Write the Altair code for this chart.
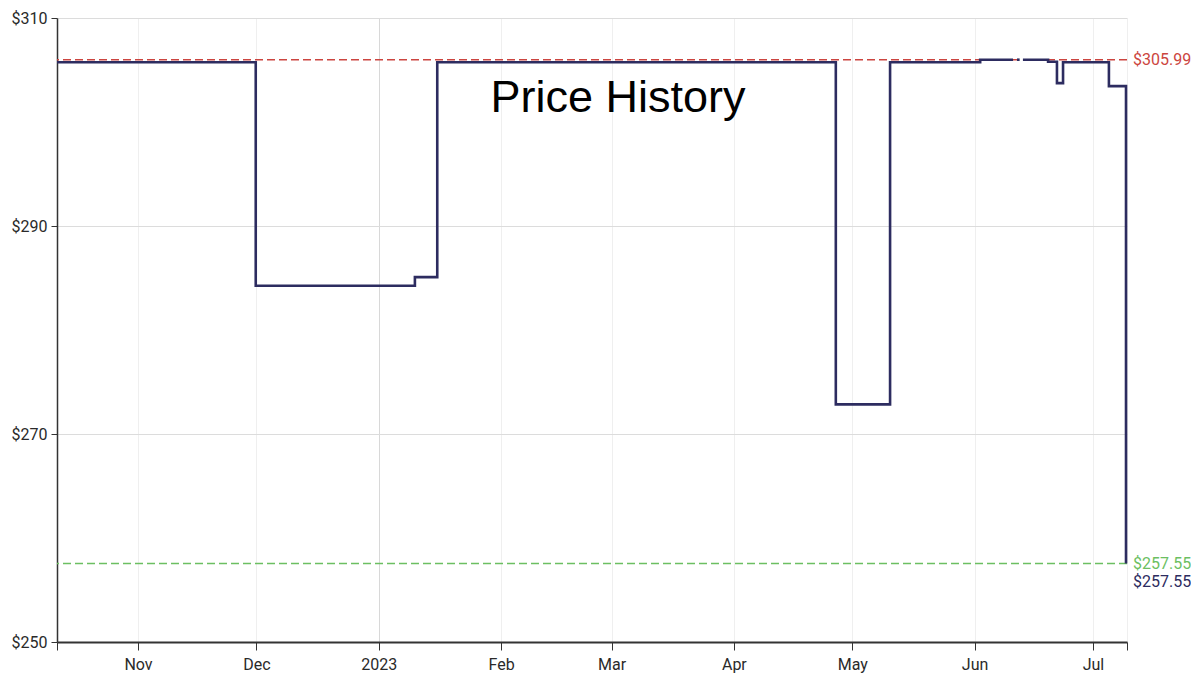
import altair as alt
import pandas as pd

# price steps (UTC); run splits the line where the history has small gaps
price_dates = [
    "2022-10-11T11:17:00Z", "2022-11-30T20:00:00Z", "2023-01-10T04:00:00Z",
    "2023-01-15T20:00:00Z", "2023-04-26T20:00:00Z", "2023-05-10T14:00:00Z",
    "2023-06-02T10:00:00Z", "2023-06-10T18:00:00Z",
    "2023-06-11T18:00:00Z", "2023-06-12T10:00:00Z",
    "2023-06-13T06:00:00Z", "2023-06-19T15:00:00Z", "2023-06-21T21:00:00Z",
    "2023-06-23T10:00:00Z", "2023-07-05T01:00:00Z", "2023-07-09T09:00:00Z",
]
price_values = [
    305.74, 284.25, 285.08, 305.74, 272.85, 305.74, 305.99, 305.99,
    305.99, 305.99,
    305.99, 305.80, 303.74, 305.74, 303.45, 257.55,
]
price_run = [1, 1, 1, 1, 1, 1, 1, 1, 2, 2, 3, 3, 3, 3, 3, 3]

highest = 305.99
lowest = 257.55
current = 257.55

y_ticks = [250, 270, 290, 310]

NAVY = "#2d2c60"
RED = "#cc4540"
GREEN = "#6cbf62"
FONT = "Roboto"

W, H = 1070, 624

x_start = alt.DateTime(year=2022, month=10, date=11, hours=11, minutes=17, utc=True)
x_end = alt.DateTime(year=2023, month=7, date=9, hours=15, utc=True)
month_starts = [alt.DateTime(year=2022, month=m, date=1, utc=True) for m in (11, 12)] + [
    alt.DateTime(year=2023, month=m, date=1, utc=True) for m in range(1, 8)
]

df = pd.DataFrame({"date": price_dates, "price": price_values, "run": price_run})

x_enc = alt.X(
    "date:T",
    scale=alt.Scale(type="utc", domain=[x_start, x_end]),
    axis=alt.Axis(
        title=None,
        values=[x_start] + month_starts + [x_end],
        labelExpr=(
            "utcdate(datum.value) != 1 ? '' : "
            "(utcmonth(datum.value) == 0 ? utcFormat(datum.value, '%Y') "
            ": utcFormat(datum.value, '%b'))"
        ),
        gridColor={
            "condition": {"test": "utcmonth(datum.value) == 0 && utcdate(datum.value) == 1",
                          "value": "#d8d8d8"},
            "value": "#efefef",
        },
        tickSize=8,
        labelPadding=6,
        domainWidth=2,
    ),
)
y_enc = alt.Y(
    "price:Q",
    scale=alt.Scale(domain=[250, 310], nice=False, zero=False),
    axis=alt.Axis(
        title=None,
        values=y_ticks,
        format="$.0f",
        gridColor="#dcdcdc",
        tickSize=6,
        labelPadding=4,
        domainWidth=1.5,
    ),
)

line = (
    alt.Chart(df)
    .mark_line(color=NAVY, strokeWidth=2.6, interpolate="step-after")
    .encode(x=x_enc, y=y_enc, detail="run:N")
)

refs = pd.DataFrame({"price": [highest, lowest], "kind": ["high", "low"]})
high_rule = (
    alt.Chart(refs[refs.kind == "high"])
    .mark_rule(color=RED, strokeDash=[8, 4], strokeWidth=1.4)
    .encode(y=y_enc)
)
low_rule = (
    alt.Chart(refs[refs.kind == "low"])
    .mark_rule(color=GREEN, strokeDash=[8, 4], strokeWidth=1.4)
    .encode(y=y_enc)
)


def side_label(value, color, dy):
    return (
        alt.Chart(pd.DataFrame({"price": [value]}))
        .mark_text(align="left", baseline="middle", dx=6, dy=dy, color=color,
                   font=FONT, fontSize=16)
        .encode(y=y_enc, x=alt.value(W), text=alt.Text("price:Q", format="$.2f"))
    )


labels = side_label(highest, RED, 0) + side_label(lowest, GREEN, 1) + side_label(current, NAVY, 19)

title = (
    alt.Chart(pd.DataFrame({"t": ["Price History"]}))
    .mark_text(font="Liberation Sans", fontSize=45, color="#000000",
               align="center", baseline="alphabetic")
    .encode(text="t:N", x=alt.value(561), y=alt.value(94))
)

chart = (
    alt.layer(high_rule, low_rule, line, labels, title)
    .properties(
        width=W,
        height=H,
        autosize=alt.AutoSizeParams(type="none"),
        padding={"left": 49, "top": 10, "right": 64, "bottom": 31},
    )
    .configure_view(stroke=None)
    .configure_axis(
        labelFont=FONT,
        labelFontSize=16,
        labelColor="#2a2a2a",
        tickColor="#333333",
        domainColor="#333333",
    )
)

chart.save("out.html", embed_options={"renderer": "svg", "actions": False})
